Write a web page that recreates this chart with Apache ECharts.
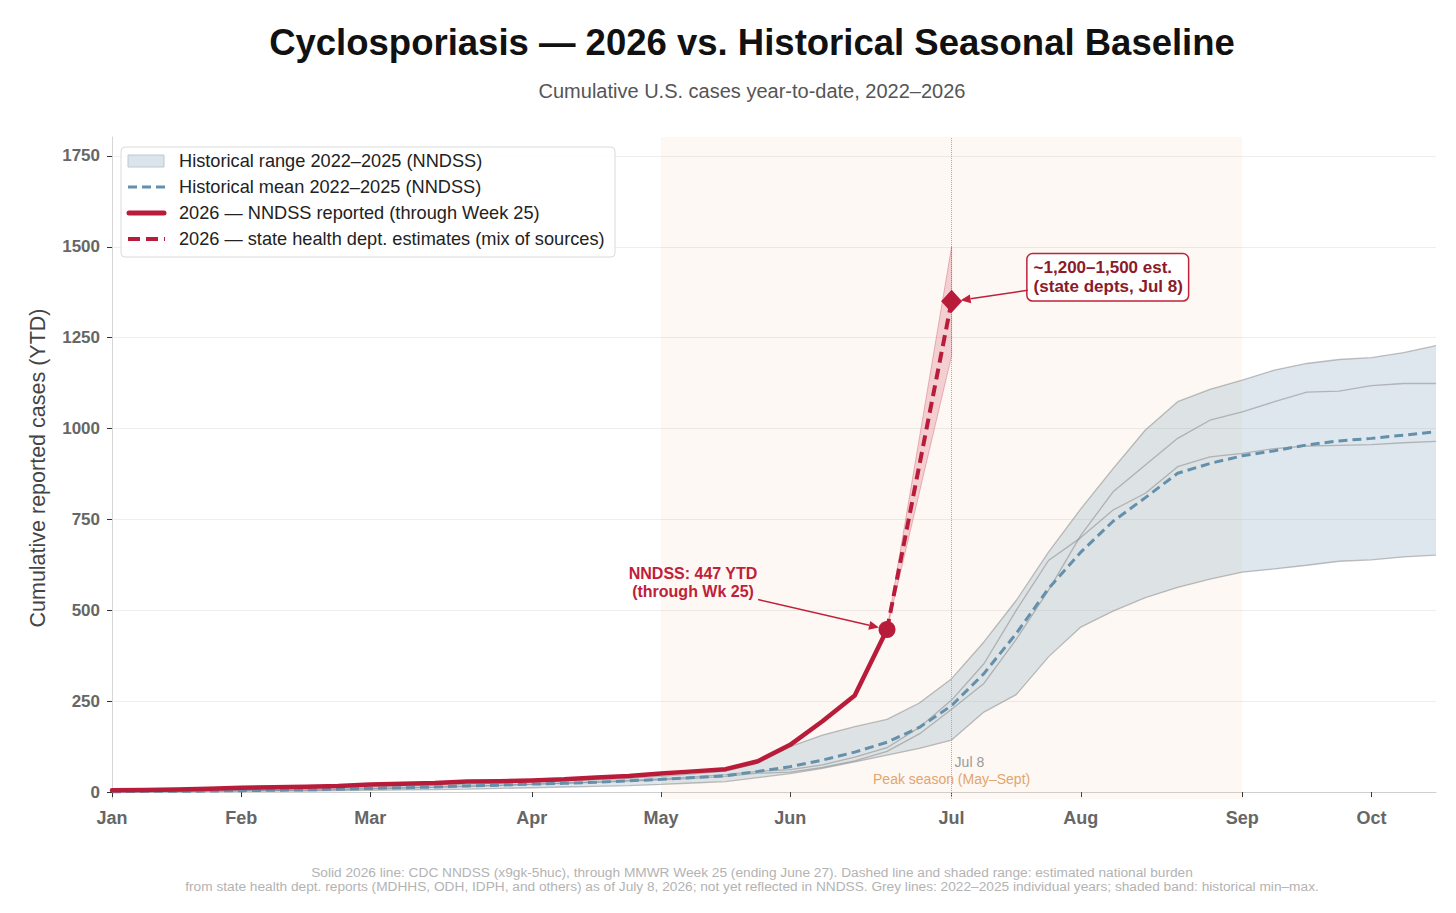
<!DOCTYPE html>
<html>
<head>
<meta charset="utf-8">
<script src="https://cdn.jsdelivr.net/npm/echarts@6/dist/echarts.min.js"></script>
<style>
html,body{margin:0;padding:0;background:#ffffff;}
#chart{width:1456px;height:913px;}
</style>
</head>
<body>
<div id="chart"></div>
<script>
// ---------------- DATA ----------------
// MMWR week numbers shown on the x axis (week 1 = early January)
const weeks = [1,2,3,4,5,6,7,8,9,10,11,12,13,14,15,16,17,18,19,20,21,22,23,24,25,26,27,28,29,30,31,32,33,34,35,36,37,38,39,40,41,42];
const monthTickWeeks = [1,5,9,14,18,22,27,31,36,40];
const monthTickLabels = ['Jan','Feb','Mar','Apr','May','Jun','Jul','Aug','Sep','Oct'];
const yTicks = [0,250,500,750,1000,1250,1500,1750];

// Historical individual years (cumulative YTD), 2022–2025
const hist2022 = [3,4,5,6,8,9,11,13,15,17,19,22,25,28,31,34,38,43,50,58,80,125,157,180,200,245,312,413,527,660,779,890,996,1074,1108,1133,1161,1179,1190,1195,1209,1228];
const hist2023 = [2,2,2,3,4,5,6,7,9,11,13,15,18,21,24,27,30,34,38,43,52,55,68,86,112,160,228,299,420,555,706,826,900,973,1023,1046,1074,1100,1103,1118,1124,1124];
const hist2024 = [3,3,3,4,5,5,6,8,10,12,14,17,19,22,25,28,32,36,42,48,57,62,75,96,122,178,253,353,500,637,700,776,822,895,922,932,945,952,954,956,961,965];
const hist2025 = [0,1,1,2,2,3,3,4,5,6,7,8,10,12,14,16,18,21,25,29,40,51,65,83,102,120,143,220,268,372,454,498,535,563,586,605,614,624,635,639,647,652];
// Historical mean 2022–2025
const histMean = [1,2,2,3,4,5,6,8,10,12,14,17,19,22,24,27,31,35,40,45,57,70,88,110,137,178,238,326,436,560,660,745,810,877,904,925,939,955,966,973,982,991];

// 2026 NNDSS reported, weeks 1–25
const nndssWeeks = [1,2,3,4,5,6,7,8,9,10,11,12,13,14,15,16,17,18,19,20,21,22,23,24,25];
const nndss2026 = [5,6,7,9,12,13,15,17,21,23,25,29,30,32,35,40,44,51,57,63,85,130,195,266,447];

// 2026 state health dept. estimate (from last NNDSS week to Jul 8)
const estWeeks = [25,27];
const estValues = [447,1350];
const estLow = [447,1200];
const estHigh = [447,1500];

// Peak season span (May–Sept)
const peakStartWeek = 18;
const peakEndWeek = 36;

const footnote = 'Solid 2026 line: CDC NNDSS (x9gk-5huc), through MMWR Week 25 (ending June 27). Dashed line and shaded range: estimated national burden\nfrom state health dept. reports (MDHHS, ODH, IDPH, and others) as of July 8, 2026; not yet reflected in NNDSS. Grey lines: 2022–2025 individual years; shaded band: historical min–max.';

// ---------------- CHART ----------------
const FONT = "'Liberation Sans', Arial, Helvetica, sans-serif";
const RED = '#b91c3a';
const chart = echarts.init(document.getElementById('chart'), null, {renderer: 'svg'});

const pairs = (xs, ys) => ys.map((y, i) => [xs[i], y]);
const years = [hist2022, hist2023, hist2024, hist2025];
const histMin = weeks.map((w, i) => Math.min(...years.map(a => a[i])));
const histMax = weeks.map((w, i) => Math.max(...years.map(a => a[i])));
const lastWeek = nndssWeeks[nndssWeeks.length - 1];
const lastVal = nndss2026[nndss2026.length - 1];

// band polygon drawn through the cartesian scales (api.coord)
function bandSeries(name, xs, lo, hi, fill, stroke, z) {
  return {
    name: name, type: 'custom', silent: true, z: z,
    data: xs.map((x, i) => [x, lo[i], hi[i]]),
    encode: {x: 0, y: [1, 2]},
    renderItem: (params, api) => {
      if (params.dataIndex !== 0) return null;
      const top = xs.map((x, i) => api.coord([x, hi[i]]));
      const bot = xs.map((x, i) => api.coord([x, lo[i]])).reverse();
      return {
        type: 'polygon', shape: {points: top.concat(bot)},
        style: {fill: fill, stroke: stroke, lineWidth: stroke ? 1 : 0}
      };
    }
  };
}

const yearSeries = years.map((arr, k) => ({
  name: String(2022 + k), type: 'line', data: pairs(weeks, arr), symbol: 'none', silent: true, z: 3,
  lineStyle: {color: 'rgba(130,130,130,0.5)', width: 1.3}
}));

const option = {
  animation: false,
  backgroundColor: '#ffffff',
  textStyle: {fontFamily: FONT},
  title: [
    {
      text: 'Cyclosporiasis — 2026 vs. Historical Seasonal Baseline',
      subtext: 'Cumulative U.S. cases year-to-date, 2022–2026',
      left: 752, top: 24, textAlign: 'center', padding: 0, itemGap: 20,
      textStyle: {fontSize: 36.5, fontWeight: 'bold', color: '#111', fontFamily: FONT, lineHeight: 36},
      subtextStyle: {fontSize: 20, color: '#555', fontFamily: FONT, lineHeight: 20}
    },
    {
      text: footnote, left: 752, top: 865, textAlign: 'center', padding: 0,
      textStyle: {fontSize: 13.7, fontWeight: 'normal', color: '#b3b3b3', fontFamily: FONT, lineHeight: 14}
    }
  ],
  grid: {left: 112, right: 20, top: 137, bottom: 114, containLabel: false, outerBoundsMode: 'none'},
  xAxis: {
    type: 'value', min: weeks[0], max: weeks[weeks.length - 1],
    axisLine: {show: true, lineStyle: {color: '#cfcfcf', width: 1}},
    axisTick: {show: true, customValues: monthTickWeeks, length: 5, lineStyle: {color: '#333', width: 1}},
    axisLabel: {
      customValues: monthTickWeeks,
      formatter: v => monthTickLabels[monthTickWeeks.indexOf(v)] || '',
      fontSize: 18, fontWeight: 'bold', color: '#666', margin: 10, fontFamily: FONT
    },
    splitLine: {show: false}
  },
  yAxis: {
    type: 'value', min: -19, max: 1802,
    name: 'Cumulative reported cases (YTD)', nameLocation: 'middle', nameGap: 63,
    nameTextStyle: {fontSize: 21.5, color: '#444', fontFamily: FONT},
    axisLine: {show: true, lineStyle: {color: '#d6d6d6', width: 1}},
    axisTick: {show: true, customValues: yTicks, length: 5, lineStyle: {color: '#333', width: 1}},
    axisLabel: {customValues: yTicks, formatter: v => String(v), fontSize: 17, fontWeight: 'bold', color: '#666', margin: 12, fontFamily: FONT},
    splitLine: {show: true, lineStyle: {color: '#eeeeee', width: 1}}
  },
  series: [
    {
      name: 'peakSeason', type: 'line', data: pairs(weeks, histMin), symbol: 'none', silent: true, z: 0,
      lineStyle: {opacity: 0},
      markArea: {
        silent: true,
        itemStyle: {color: 'rgba(235,190,150,0.11)'},
        label: {show: true, position: 'insideBottom', distance: 13, formatter: 'Peak season (May–Sept)', color: '#e2a56f', fontSize: 14, fontFamily: FONT},
        data: [[{xAxis: peakStartWeek}, {xAxis: peakEndWeek}]]
      },
      markLine: {
        silent: true, symbol: ['none', 'none'], label: {show: false},
        lineStyle: {color: '#aaaaaa', type: 'dotted', width: 1},
        data: [{xAxis: estWeeks[1]}]
      }
    },
    bandSeries('Historical range 2022–2025 (NNDSS)', weeks, histMin, histMax, 'rgba(150,175,198,0.3)', null, 2),
    ...yearSeries,
    {
      name: 'Historical mean 2022–2025 (NNDSS)', type: 'line', data: pairs(weeks, histMean), symbol: 'none', z: 4,
      lineStyle: {color: '#6490ab', width: 3, type: [9, 5]}
    },
    bandSeries('estRange', estWeeks, estLow, estHigh, 'rgba(205,45,75,0.2)', 'rgba(200,40,70,0.3)', 5),
    {
      name: '2026 — NNDSS reported (through Week 25)', type: 'line', data: pairs(nndssWeeks, nndss2026), symbol: 'none', z: 6,
      lineStyle: {color: RED, width: 4.5, cap: 'round', join: 'round'}
    },
    {
      name: '2026 — state health dept. estimates (mix of sources)', type: 'line', data: pairs(estWeeks, estValues), symbol: 'none', z: 7,
      lineStyle: {color: RED, width: 4, type: [11, 6]}
    },
    {
      name: 'nndssLast', type: 'scatter', data: [[lastWeek, lastVal]], symbol: 'circle', symbolSize: 17, z: 8,
      itemStyle: {color: RED, opacity: 1}
    },
    {
      name: 'estPoint', type: 'scatter', data: [[estWeeks[1], estValues[1]]], symbol: 'diamond', symbolSize: [21, 23], z: 8,
      itemStyle: {color: RED, opacity: 1}
    }
  ]
};

chart.setOption(option);

// ---------------- annotations & legend (pixel offsets from data points) ----------------
const pC = chart.convertToPixel({gridIndex: 0}, [lastWeek, lastVal]);
const pD = chart.convertToPixel({gridIndex: 0}, [estWeeks[1], estValues[1]]);
const pV = chart.convertToPixel({gridIndex: 0}, [estWeeks[1], 0]);

function arrow(x1, y1, x2, y2, color, w) {
  const a = Math.atan2(y2 - y1, x2 - x1);
  const L = 10, W = 4.5;
  const bx = x2 - L * Math.cos(a), by = y2 - L * Math.sin(a);
  return [
    {type: 'line', z: 100, silent: true, shape: {x1: x1, y1: y1, x2: bx, y2: by}, style: {stroke: color, lineWidth: w}},
    {type: 'polygon', z: 100, silent: true, shape: {points: [[x2, y2], [bx - W * Math.sin(a), by + W * Math.cos(a)], [bx + W * Math.sin(a), by - W * Math.cos(a)]]}, style: {fill: color}}
  ];
}

const LX = 121, LY = 147;
const rows = [161, 187, 213, 239];
const legendEls = [
  {type: 'rect', z: 120, silent: true, shape: {x: LX, y: LY, width: 494, height: 110, r: 4}, style: {fill: 'rgba(255,255,255,0.85)', stroke: '#dadada', lineWidth: 1}},
  {type: 'rect', z: 121, silent: true, shape: {x: 128, y: rows[0] - 6, width: 36, height: 12}, style: {fill: '#dce4eb', stroke: '#bcc8d3', lineWidth: 1}},
  {type: 'line', z: 121, silent: true, shape: {x1: 128, y1: rows[1], x2: 165, y2: rows[1]}, style: {stroke: '#6490ab', lineWidth: 3, lineDash: [9, 5]}},
  {type: 'line', z: 121, silent: true, shape: {x1: 129, y1: rows[2], x2: 164, y2: rows[2]}, style: {stroke: RED, lineWidth: 5, lineCap: 'round'}},
  {type: 'line', z: 121, silent: true, shape: {x1: 128, y1: rows[3], x2: 165, y2: rows[3]}, style: {stroke: RED, lineWidth: 4, lineDash: [12, 6]}}
];
const legendNames = [
  'Historical range 2022–2025 (NNDSS)',
  'Historical mean 2022–2025 (NNDSS)',
  '2026 — NNDSS reported (through Week 25)',
  '2026 — state health dept. estimates (mix of sources)'
];
legendNames.forEach((t, i) => legendEls.push({
  type: 'text', z: 121, silent: true, x: 179, y: rows[i],
  style: {text: t, fontSize: 18.2, fontFamily: FONT, fill: '#222', align: 'left', verticalAlign: 'middle'}
}));

const graphics = [
  {
    type: 'text', z: 100, silent: true, x: pC[0] - 194, y: pC[1] - 47,
    style: {text: 'NNDSS: ' + lastVal + ' YTD\n(through Wk 25)', fontSize: 16, fontWeight: 'bold', fontFamily: FONT, fill: '#c0203a', align: 'center', verticalAlign: 'middle', lineHeight: 18}
  },
  ...arrow(pC[0] - 129, pC[1] - 30, pC[0] - 8, pC[1] - 2, '#c0203a', 1.5),
  {
    type: 'text', z: 100, silent: true, x: pD[0] + 76, y: pD[1] - 47,
    style: {
      text: '~1,200–1,500 est.\n(state depts, Jul 8)', fontSize: 17, fontWeight: 'bold', fontFamily: FONT, fill: '#8b1a2b',
      align: 'left', verticalAlign: 'top', lineHeight: 19,
      backgroundColor: '#ffffff', borderColor: '#c0203a', borderWidth: 1.5, borderRadius: 5, padding: [4, 5, 4, 6]
    }
  },
  ...arrow(pD[0] + 76, pD[1] - 11, pD[0] + 9, pD[1] - 1, '#c0203a', 1.5),
  {
    type: 'text', z: 100, silent: true, x: pV[0] + 3, y: pV[1] - 30,
    style: {text: 'Jul 8', fontSize: 14, fontFamily: FONT, fill: '#9a9a9a', align: 'left', verticalAlign: 'middle'}
  },
  ...legendEls
];

chart.setOption({graphic: graphics});
</script>
</body>
</html>
